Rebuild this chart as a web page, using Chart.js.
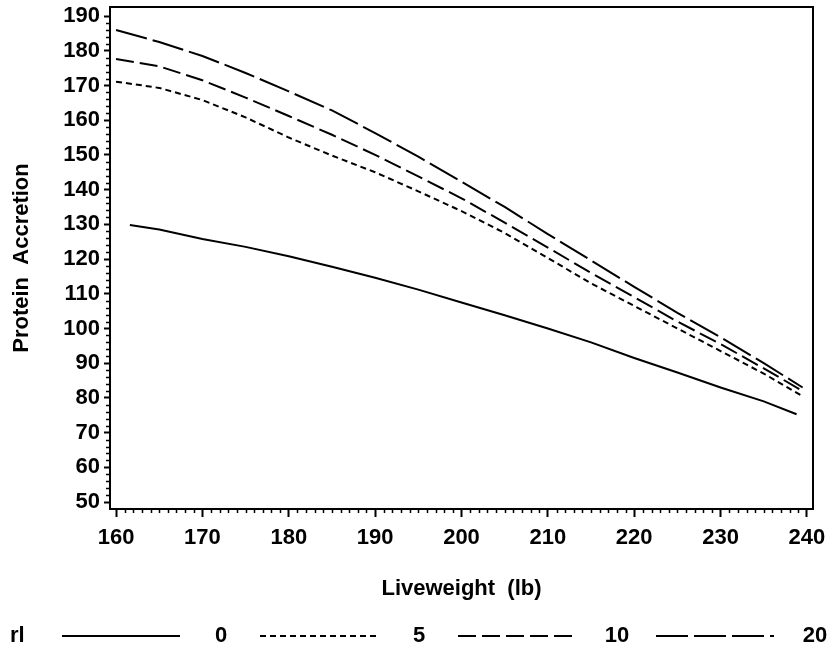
<!DOCTYPE html>
<html>
<head>
<meta charset="utf-8">
<title>Protein Accretion vs Liveweight</title>
<script src="https://cdn.jsdelivr.net/npm/chart.js@4.4.1/dist/chart.umd.min.js"></script>
<style>
    html, body { margin: 0; padding: 0; background: #ffffff; }
    #chartBox { width: 833px; height: 653px; }
</style>
</head>
<body>
<div id="chartBox"><canvas id="proteinChart" width="833" height="653"></canvas></div>
<script>
// Liveweight (lb) sample points for each curve
const weightsSolid = [161.6, 165, 170, 175, 180, 185, 190, 195, 200, 205, 210, 215, 220, 225, 230, 235, 238.8];
const weightsDashed = [160, 165, 170, 175, 180, 185, 190, 195, 200, 205, 210, 215, 220, 225, 230, 235, 239.5];

// Protein accretion, one array per rl level
const rl0 = [129.8, 128.5, 125.8, 123.5, 120.8, 117.8, 114.6, 111.2, 107.5, 103.8, 100.0, 96.0, 91.5, 87.3, 83.0, 79.0, 75.3];
const rl5 = [171.1, 169.3, 165.8, 160.8, 155.0, 149.8, 145.0, 139.5, 133.8, 127.5, 120.3, 113.0, 106.5, 100.0, 93.5, 87.0, 80.5];
const rl10 = [177.6, 175.5, 171.5, 166.5, 161.2, 155.8, 150.0, 143.8, 137.5, 130.5, 123.3, 116.0, 109.0, 102.0, 95.5, 88.5, 82.0];
const rl20 = [186.0, 182.5, 178.5, 173.6, 168.3, 162.8, 156.3, 149.5, 142.3, 135.0, 127.2, 119.6, 112.0, 104.5, 97.5, 90.0, 83.0];

const seriesLabels = ['0', '5', '10', '20'];
const legendTitle = 'rl';

// Tick labels
const xTickValues = [160, 170, 180, 190, 200, 210, 220, 230, 240];
const yTickValues = [50, 60, 70, 80, 90, 100, 110, 120, 130, 140, 150, 160, 170, 180, 190];

const FONT_FAMILY = "'Liberation Sans', Arial, sans-serif";
const FONT_SIZE = 22;
const INK = '#000000';

function toPoints(xs, ys) {
    return xs.map((x, i) => ({ x: x, y: ys[i] }));
}

// Minor ticks + box frame around the plot area
const frameAndMinorTicks = {
    id: 'frameAndMinorTicks',
    afterDraw(chart) {
        const ctx = chart.ctx;
        const area = chart.chartArea;
        const xs = chart.scales.x;
        const ys = chart.scales.y;
        ctx.save();
        ctx.strokeStyle = INK;
        ctx.lineWidth = 2;
        ctx.strokeRect(area.left, area.top, area.right - area.left, area.bottom - area.top);

        ctx.lineWidth = 1.5;
        ctx.beginPath();
        for (let v = 160; v <= 240; v += 1) {
            if (v % 10 === 0) continue;
            const px = Math.round(xs.getPixelForValue(v)) + 0.5;
            ctx.moveTo(px, area.bottom);
            ctx.lineTo(px, area.bottom + 4);
        }
        for (let v = 50; v <= 190; v += 2) {
            if (v % 10 === 0) continue;
            const py = Math.round(ys.getPixelForValue(v)) + 0.5;
            ctx.moveTo(area.left, py);
            ctx.lineTo(area.left - 4, py);
        }
        ctx.stroke();
        ctx.restore();
    }
};

// Horizontal legend at the bottom: "rl  ——— 0  - - - 5 ..."
const bottomLegend = {
    id: 'bottomLegend',
    afterDraw(chart) {
        const ctx = chart.ctx;
        const y = 636;
        ctx.save();
        ctx.fillStyle = INK;
        ctx.font = 'bold ' + FONT_SIZE + 'px ' + FONT_FAMILY;
        ctx.textBaseline = 'middle';
        ctx.textAlign = 'left';
        ctx.fillText(legendTitle, 10, y);

        ctx.textAlign = 'center';
        chart.data.datasets.forEach((ds, i) => {
            const x0 = 62 + i * 198;
            const x1 = x0 + 118;
            ctx.strokeStyle = ds.borderColor;
            ctx.lineWidth = ds.borderWidth;
            ctx.setLineDash(ds.borderDash || []);
            ctx.beginPath();
            ctx.moveTo(x0, y);
            ctx.lineTo(x1, y);
            ctx.stroke();
            ctx.setLineDash([]);
            ctx.fillText(ds.label, x0 + 159, y);
        });
        ctx.restore();
    }
};

const lineStyles = [
    { data: toPoints(weightsSolid, rl0), dash: [] },
    { data: toPoints(weightsDashed, rl5), dash: [6, 4] },
    { data: toPoints(weightsDashed, rl10), dash: [18, 6] },
    { data: toPoints(weightsDashed, rl20), dash: [32, 6] }
];

const ctx = document.getElementById('proteinChart');

new Chart(ctx, {
    type: 'line',
    data: {
        datasets: lineStyles.map((s, i) => ({
            label: seriesLabels[i],
            data: s.data,
            borderColor: INK,
            borderWidth: 2,
            borderDash: s.dash,
            pointRadius: 0,
            fill: false,
            tension: 0
        }))
    },
    options: {
        responsive: false,
        animation: false,
        layout: {
            padding: { top: 7, right: 20, bottom: 41, left: 0 }
        },
        plugins: {
            legend: { display: false },
            tooltip: { enabled: false }
        },
        scales: {
            x: {
                type: 'linear',
                min: 159.3,
                max: 240.7,
                afterBuildTicks: scale => {
                    scale.ticks = xTickValues.map(v => ({ value: v }));
                },
                afterFit: scale => {
                    scale.height = 103;
                    scale.paddingLeft = 0;
                    scale.paddingRight = 0;
                },
                ticks: {
                    color: INK,
                    padding: 8,
                    maxRotation: 0,
                    autoSkip: false,
                    font: { family: FONT_FAMILY, size: FONT_SIZE, weight: 'bold' }
                },
                grid: {
                    drawOnChartArea: false,
                    color: INK,
                    tickLength: 8,
                    tickWidth: 2
                },
                border: { color: INK, width: 2 },
                title: {
                    display: true,
                    text: 'Liveweight  (lb)',
                    color: INK,
                    padding: { top: 0, bottom: 10 },
                    font: { family: FONT_FAMILY, size: FONT_SIZE, weight: 'bold' }
                }
            },
            y: {
                type: 'linear',
                min: 48,
                max: 192.6,
                afterBuildTicks: scale => {
                    scale.ticks = yTickValues.map(v => ({ value: v }));
                },
                afterFit: scale => {
                    scale.width = 110;
                    scale.paddingTop = 0;
                    scale.paddingBottom = 0;
                },
                ticks: {
                    color: INK,
                    padding: 4,
                    autoSkip: false,
                    font: { family: FONT_FAMILY, size: FONT_SIZE, weight: 'bold' }
                },
                grid: {
                    drawOnChartArea: false,
                    color: INK,
                    tickLength: 6,
                    tickWidth: 2
                },
                border: { color: INK, width: 2 },
                title: {
                    display: true,
                    text: 'Protein  Accretion',
                    color: INK,
                    padding: { top: 9, bottom: 0 },
                    font: { family: FONT_FAMILY, size: FONT_SIZE, weight: 'bold' }
                }
            }
        }
    },
    plugins: [frameAndMinorTicks, bottomLegend]
});
</script>
</body>
</html>
